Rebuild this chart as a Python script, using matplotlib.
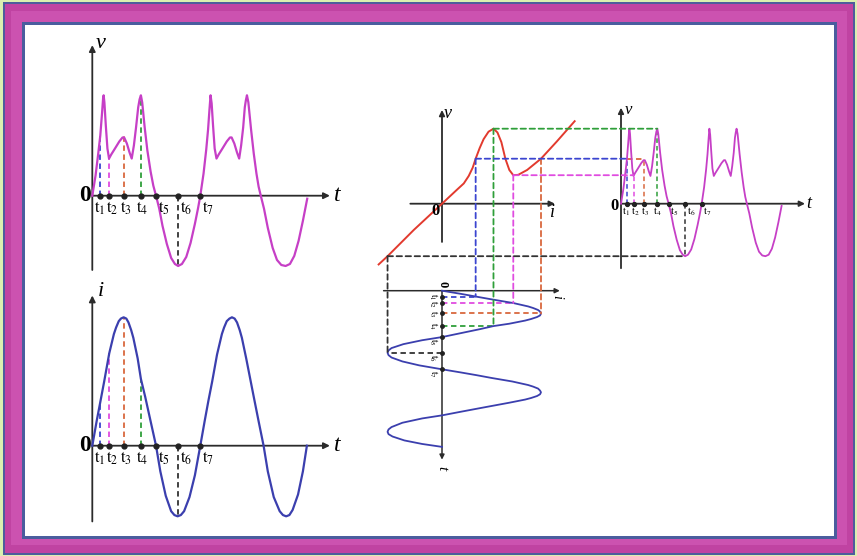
import numpy as np
import matplotlib.pyplot as plt
from matplotlib.patches import Rectangle, ConnectionPatch

plt.rcParams['font.family'] = 'serif'
plt.rcParams['font.serif'] = ['Liberation Serif', 'DejaVu Serif']
plt.rcParams['mathtext.fontset'] = 'stix'

# current i(t), two cycles (peak = 1)
t_i = [0.0, 0.4, 0.74, 1.1, 1.57, 2.0, 2.2, 2.45, 2.65, 2.9, 3.15, 3.35, 3.6, 3.8, 4.2, 4.5, 4.9, 5.4, 5.9,
       6.3, 6.8, 7.3, 7.6, 7.9, 8.2, 8.5, 9.0, 9.5, 10.0,
       10.4, 10.75, 11.1, 11.55, 12.0, 12.2, 12.45, 12.7, 12.93, 13.18, 13.4, 13.65, 13.85, 14.25, 14.6,
       14.95, 15.4, 15.86,
       16.25, 16.8, 17.35, 17.65, 17.95, 18.25, 18.55, 19.05, 19.5, 19.87]
i_val = [0.0, 0.19, 0.34, 0.5, 0.72, 0.87, 0.92, 0.97, 0.99, 1.0, 0.99, 0.96, 0.9, 0.84, 0.68, 0.52, 0.38,
         0.19, 0.0,
         -0.2, -0.39, -0.51, -0.54, -0.55, -0.54, -0.51, -0.4, -0.23, 0.0,
         0.19, 0.35, 0.5, 0.71, 0.87, 0.92, 0.97, 0.99, 1.0, 0.99, 0.96, 0.9, 0.84, 0.68, 0.53,
         0.38, 0.19, 0.0,
         -0.2, -0.4, -0.51, -0.54, -0.55, -0.54, -0.5, -0.38, -0.2, 0.0]

# voltage v(t) across the nonlinear element
t_v = [0.0, 0.3, 0.55, 0.74, 0.9, 1.0, 1.05, 1.12, 1.25, 1.4, 1.55,
       1.75, 2.1, 2.5, 2.8, 2.95, 3.2, 3.45, 3.65,
       3.85, 4.05, 4.25, 4.38, 4.5, 4.62, 4.85, 5.1, 5.4, 5.65, 5.9,
       6.2, 6.5, 6.9, 7.3, 7.65, 7.95, 8.3, 8.7, 9.1, 9.5, 9.8, 10.0,
       10.3, 10.55, 10.72, 10.85, 10.95, 11.05, 11.18, 11.33, 11.5,
       11.7, 12.05, 12.45, 12.75, 12.9, 13.15, 13.4, 13.6,
       13.78, 13.97, 14.12, 14.22, 14.32, 14.45, 14.7, 14.95, 15.2, 15.4, 15.6,
       15.9, 16.25, 16.7, 17.1, 17.5, 17.9, 18.3, 18.7, 19.1, 19.5, 19.9]
v_val = [0.0, 0.2, 0.42, 0.6, 0.82, 0.97, 1.0, 0.93, 0.7, 0.47, 0.37,
         0.41, 0.47, 0.54, 0.58, 0.58, 0.52, 0.43, 0.37,
         0.5, 0.68, 0.88, 0.96, 1.0, 0.93, 0.68, 0.45, 0.24, 0.1, 0.0,
         -0.13, -0.3, -0.48, -0.62, -0.68, -0.7, -0.68, -0.61, -0.47, -0.28, -0.12, 0.0,
         0.22, 0.46, 0.66, 0.86, 1.0, 0.92, 0.7, 0.47, 0.37,
         0.41, 0.47, 0.54, 0.58, 0.58, 0.52, 0.43, 0.37,
         0.5, 0.68, 0.88, 0.95, 1.0, 0.93, 0.66, 0.42, 0.22, 0.09, 0.0,
         -0.13, -0.32, -0.52, -0.64, -0.69, -0.7, -0.68, -0.6, -0.45, -0.25, -0.03]

# characteristic v = f(i)
char_i = [-0.64, -0.55, -0.285, 0.0, 0.154, 0.22, 0.27, 0.31, 0.34, 0.38, 0.42, 0.47, 0.52,
          0.56, 0.6, 0.64, 0.68, 0.72, 0.77, 0.86, 1.0, 1.16, 1.34]
char_v = [-0.81, -0.70, -0.35, 0.0, 0.19, 0.27, 0.37, 0.48, 0.6, 0.74, 0.86, 0.96, 1.0,
          0.95, 0.82, 0.6, 0.45, 0.38, 0.385, 0.45, 0.6, 0.83, 1.1]

# marked instants t1..t7
t_names = [r'$\mathrm{t}_{%d}$' % k for k in range(1, 8)]
t_marks = [0.74, 1.57, 2.9, 4.5, 5.9, 7.95, 10.0]
i_marks = [0.34, 0.72, 1.0, 0.52, 0.0, -0.55, 0.0]
v_marks = [0.6, 0.38, 0.6, 1.0, 0.0, -0.7, 0.0]
mark_colors = ['#3b45d0', '#e04ce0', '#d9683e', '#2f9f3a', None, '#333333', None]

MAG = '#c63fc6'
BLUE = '#3b3fae'
RED = '#e23a2e'
AXC = '#2b2b2b'
DASH = (0, (3, 2))

W, H = 857, 556
fig = plt.figure(figsize=(W / 100, H / 100), dpi=100)
fig.patch.set_facecolor('#dcefb0')

# frame
bg = fig.add_axes([0, 0, 1, 1])
bg.set_xlim(0, W)
bg.set_ylim(H, 0)
bg.axis('off')
bg.add_patch(Rectangle((3, 2), 852, 553, fc='#4d5c9c', ec='none'))
bg.add_patch(Rectangle((5, 4), 848, 549, fc='#c043a2', ec='none'))
bg.add_patch(Rectangle((11, 11), 836, 534, fc='#cc52b0', ec='none'))
bg.add_patch(Rectangle((22, 22), 815, 517, fc='#4a5d9e', ec='none'))
bg.add_patch(Rectangle((25, 25), 809, 511, fc='white', ec='none'))


def add_panel(ox, oy, sx, sy, xlim, ylim, down=False):
    # ox, oy: pixel of the data origin, sx, sy: pixels per data unit
    left = ox + xlim[0] * sx
    right = ox + xlim[1] * sx
    if down:
        top, bottom = oy + ylim[0] * sy, oy + ylim[1] * sy
    else:
        top, bottom = oy - ylim[1] * sy, oy - ylim[0] * sy
    ax = fig.add_axes([left / W, 1 - bottom / H, (right - left) / W, (bottom - top) / H])
    ax.set_xlim(*xlim)
    ax.set_ylim(*(ylim[::-1] if down else ylim))
    ax.axis('off')
    ax.patch.set_alpha(0)
    return ax


def axis_arrow(ax, start, end, lw=1.3, ms=9):
    ax.annotate('', xy=end, xytext=start, annotation_clip=False,
                arrowprops=dict(arrowstyle='-|>', color=AXC, lw=lw,
                                mutation_scale=ms, shrinkA=0, shrinkB=0))


def dash(ax, xs, ys, color, lw=1.3):
    ax.plot(xs, ys, color=color, lw=lw, ls=DASH, zorder=2)


def link(axA, xyA, axB, xyB, color):
    cp = ConnectionPatch(xyA=xyA, coordsA=axA.transData, xyB=xyB, coordsB=axB.transData,
                         color=color, lw=1.3, linestyle=DASH)
    fig.add_artist(cp)


def t_labels(ax, dxs, dy, size, rotated=False):
    for name, t, dx in zip(t_names, t_marks, dxs):
        if rotated:
            ax.annotate(name, (0, t), xytext=(dy, -dx), textcoords='offset points',
                        ha='center', va='center', fontsize=size, rotation=-90)
        else:
            ax.annotate(name, (t, 0), xytext=(dx, dy), textcoords='offset points',
                        ha='center', va='center', fontsize=size)


# ---- v(t), top left
ax_v = add_panel(92.3, 195.7, 10.8, 100.4, (-2.0, 23.5), (-0.85, 1.65))
axis_arrow(ax_v, (0, -0.74), (0, 1.5))
axis_arrow(ax_v, (0, 0), (22.0, 0))
for t, v, c in zip(t_marks, v_marks, mark_colors):
    if c:
        dash(ax_v, [t, t], [0, v], c)
ax_v.plot(t_v, v_val, color=MAG, lw=1.6, zorder=3)
ax_v.plot(t_marks, [0] * 7, 'o', ms=3.5, color='#222', zorder=4)
ax_v.text(0.8, 1.52, 'v', style='italic', fontsize=16, ha='center', va='center')
ax_v.text(22.65, 0.0, 't', style='italic', fontsize=17, ha='center', va='center')
ax_v.text(-0.7, 0.0, '0', fontsize=17, weight='bold', ha='center', va='center')
t_labels(ax_v, [-0.6, 2.2, 1.4, 0.7, 5.5, 5.5, 5.5], -9, 12)

# ---- i(t), bottom left
ax_i = add_panel(92.3, 445.7, 10.8, 128.4, (-2.0, 23.5), (-0.7, 1.3))
axis_arrow(ax_i, (0, -0.59), (0, 1.17))
axis_arrow(ax_i, (0, 0), (22.0, 0))
for t, i, c in zip(t_marks, i_marks, mark_colors):
    if c:
        dash(ax_i, [t, t], [0, i], c)
ax_i.plot(t_i, i_val, color=BLUE, lw=1.6, zorder=3)
ax_i.plot(t_marks, [0] * 7, 'o', ms=3.5, color='#222', zorder=4)
ax_i.text(0.8, 1.2, 'i', style='italic', fontsize=16, ha='center', va='center')
ax_i.text(22.65, 0.0, 't', style='italic', fontsize=17, ha='center', va='center')
ax_i.text(-0.7, 0.0, '0', fontsize=17, weight='bold', ha='center', va='center')
t_labels(ax_i, [-0.6, 2.2, 1.4, 0.7, 5.5, 5.5, 5.5], -9, 12)

# ---- characteristic v(i), middle
ax_c = add_panel(442, 203.7, 99, 75, (-0.8, 1.5), (-1.0, 1.45))
axis_arrow(ax_c, (-0.32, 0), (1.14, 0), ms=8)
axis_arrow(ax_c, (0, -0.51), (0, 1.25), ms=8)
ax_c.plot(char_i, char_v, color=RED, lw=1.4, zorder=3)
ax_c.text(0.06, 1.2, 'v', style='italic', fontsize=13, ha='center', va='center')
ax_c.text(1.12, -0.12, 'i', style='italic', fontsize=13, ha='center', va='center')
ax_c.text(-0.07, -0.1, '0', fontsize=12, weight='bold', ha='center', va='center')

# ---- v(t), top right
ax_r = add_panel(621, 203.7, 8.07, 75, (-1.5, 24.5), (-0.95, 1.45))
axis_arrow(ax_r, (0, -0.86), (0, 1.28), ms=8)
axis_arrow(ax_r, (0, 0), (22.8, 0), ms=8)
ax_r.plot(t_v, v_val, color=MAG, lw=1.3, zorder=3)
ax_r.plot(t_marks, [0] * 7, 'o', ms=2.8, color='#222', zorder=4)
ax_r.text(0.9, 1.25, 'v', style='italic', fontsize=12, ha='center', va='center')
ax_r.text(23.2, 0.0, 't', style='italic', fontsize=13, ha='center', va='center')
ax_r.text(-0.85, -0.03, '0', fontsize=12, weight='bold', ha='center', va='center')
t_labels(ax_r, [-0.5, 0.9, 0.3, 0, 4.3, 4.3, 3.6], -6, 7.5)

# ---- i(t) turned on its side, bottom middle
ax_s = add_panel(442, 290.7, 99, 7.86, (-0.75, 1.35), (-2.0, 23.5), down=True)
axis_arrow(ax_s, (-0.59, 0), (1.19, 0), lw=1.1, ms=7)
axis_arrow(ax_s, (0, 0), (0, 21.5), lw=1.1, ms=7)
ax_s.plot(i_val, t_i, color=BLUE, lw=1.3, zorder=3)
ax_s.plot([0] * 7, t_marks, 'o', ms=2.5, color='#222', zorder=4)
for t, i, c in zip(t_marks, i_marks, mark_colors):
    if c:
        dash(ax_s, [0, i], [t, t], c)
ax_s.text(0.0, -0.9, '0', fontsize=9, weight='bold', rotation=-90, ha='center', va='center')
ax_s.text(1.16, 0.8, 'i', style='italic', fontsize=10, rotation=-90, ha='center', va='center')
ax_s.text(0.0, 22.6, 't', style='italic', fontsize=11, rotation=-90, ha='center', va='center')
t_labels(ax_s, [0, 0.5, 0, 0, 3.5, 3.5, 3.5], -6.5, 7, rotated=True)

# ---- projections between the panels
for k in [0, 1, 2, 3, 5]:
    link(ax_c, (i_marks[k], v_marks[k]), ax_s, (i_marks[k], t_marks[k]), mark_colors[k])
for k in [0, 1, 3, 5]:
    link(ax_c, (i_marks[k], v_marks[k]), ax_r, (t_marks[k], v_marks[k]), mark_colors[k])
dash(ax_r, [t_marks[0], t_marks[2]], [v_marks[2], v_marks[2]], mark_colors[2])
for t, v, c in zip(t_marks, v_marks, mark_colors):
    if c:
        dash(ax_r, [t, t], [0, v], c, lw=1.1)

fig.savefig('out.png', dpi=100, facecolor=fig.get_facecolor())
